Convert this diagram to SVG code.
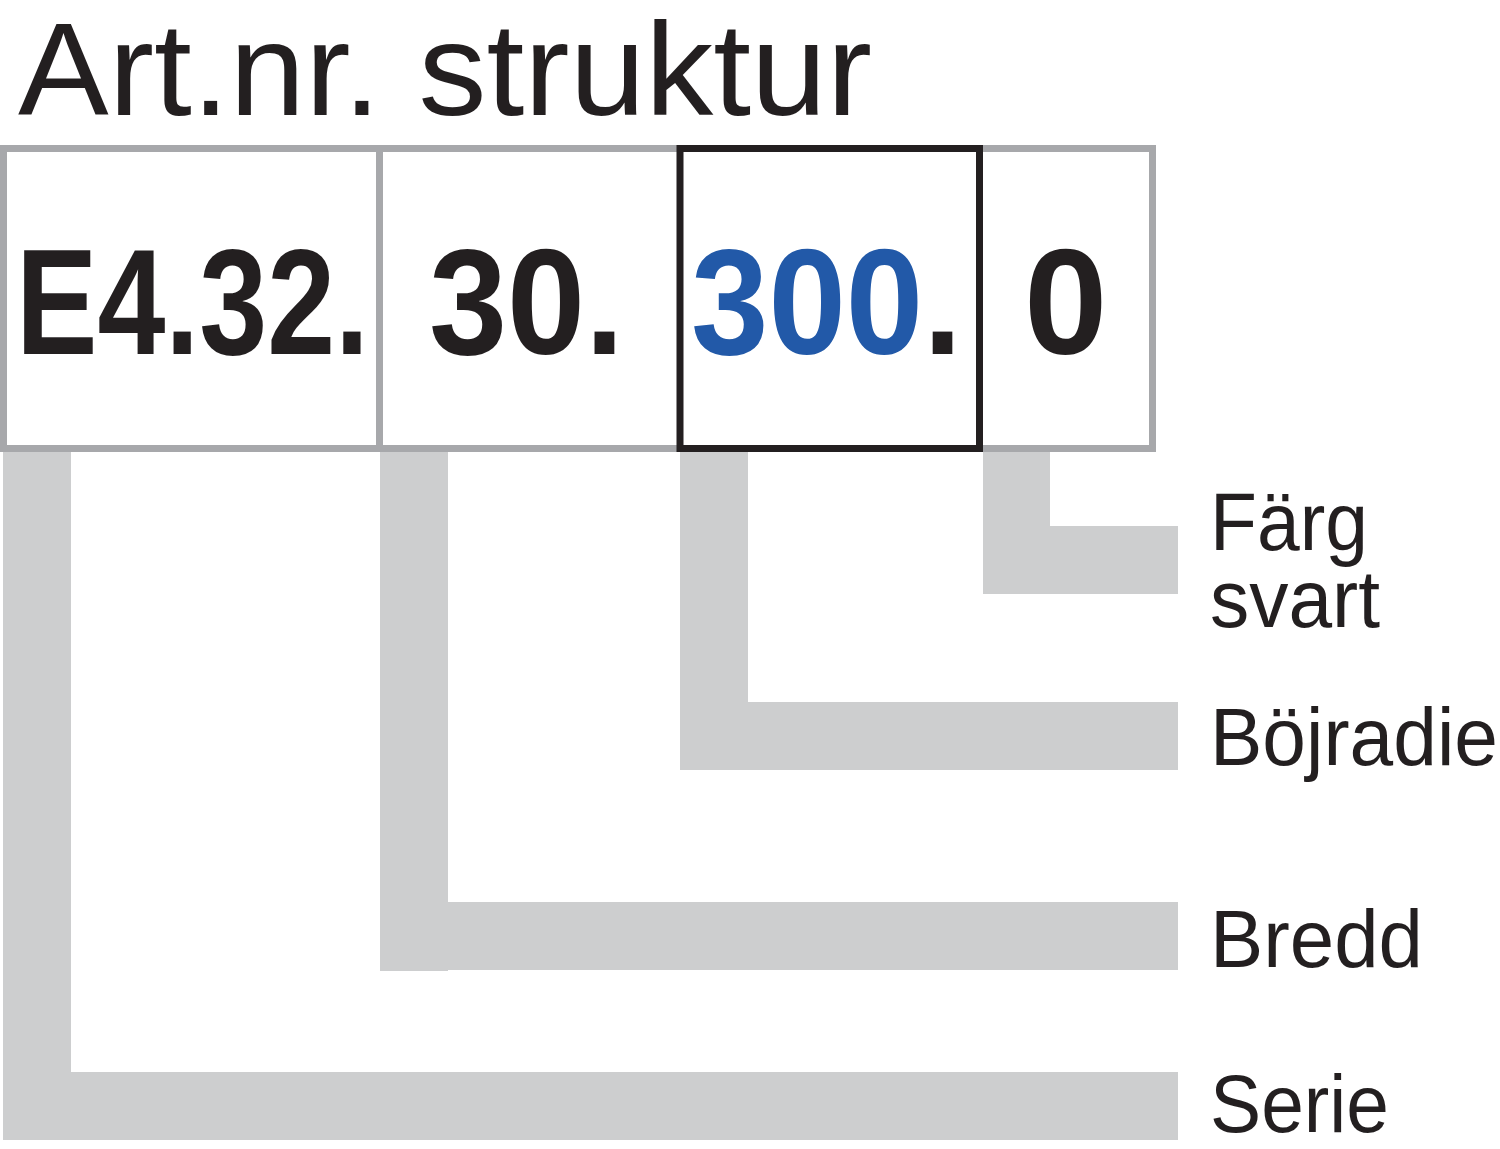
<svg xmlns="http://www.w3.org/2000/svg" width="1500" height="1149" viewBox="0 0 1500 1149">
<style>
.bar{fill:#cdcecf;stroke:none}
.box{fill:#fff;stroke:#a7a8ab;stroke-width:7}
.sel{fill:none;stroke:#231f20;stroke-width:7}
.code{font-family:"Liberation Sans",Arial,sans-serif;font-weight:bold;font-size:150px;fill:#231f20}
.lbl{font-family:"Liberation Sans",Arial,sans-serif;font-size:81px;fill:#231f20}
.title{font-family:"Liberation Sans",Arial,sans-serif;font-size:132px;fill:#231f20}
</style>
<rect width="1500" height="1149" fill="#fff"/>
<text class="title" x="18" y="115" textLength="854" lengthAdjust="spacingAndGlyphs">Art.nr. struktur</text>
<g id="connectors">
<path class="bar" d="M3,452 H71 V1072 H1178 V1140 H3 Z"/>
<path class="bar" d="M380,452 H448 V902 H1178 V970 H448 V971 H380 Z"/>
<path class="bar" d="M680,452 H748 V702 H1178 V770 H680 Z"/>
<path class="bar" d="M983,452 H1050 V526 H1178 V594 H983 Z"/>
</g>
<g id="code-boxes">
<rect class="box" x="3.5" y="148.5" width="1149" height="300"/>
<line x1="379.5" y1="148.5" x2="379.5" y2="448.5" stroke="#a7a8ab" stroke-width="7"/>
</g>
<g id="node-serie-code">
<text class="code" x="16" y="354" textLength="353" lengthAdjust="spacingAndGlyphs">E4.32.</text>
</g>
<g id="node-bredd-code">
<text class="code" x="429" y="354" textLength="195" lengthAdjust="spacingAndGlyphs">30.</text>
</g>
<g id="node-bojradie-code">
<rect class="sel" x="680" y="148.5" width="299.5" height="300"/>
<text class="code" x="691" y="354" textLength="271" lengthAdjust="spacingAndGlyphs"><tspan fill="#2259a8">300</tspan>.</text>
</g>
<g id="node-farg-code">
<text class="code" x="1024" y="354">0</text>
</g>
<g id="node-farg-label">
<text class="lbl" x="1210" y="550" textLength="158" lengthAdjust="spacingAndGlyphs">Färg</text>
<text class="lbl" x="1210" y="627" textLength="170" lengthAdjust="spacingAndGlyphs">svart</text>
</g>
<g id="node-bojradie-label">
<text class="lbl" x="1210" y="765" textLength="288" lengthAdjust="spacingAndGlyphs">Böjradie</text>
</g>
<g id="node-bredd-label">
<text class="lbl" x="1210" y="967" textLength="213" lengthAdjust="spacingAndGlyphs">Bredd</text>
</g>
<g id="node-serie-label">
<text class="lbl" x="1210" y="1132" textLength="179" lengthAdjust="spacingAndGlyphs">Serie</text>
</g>
</svg>
